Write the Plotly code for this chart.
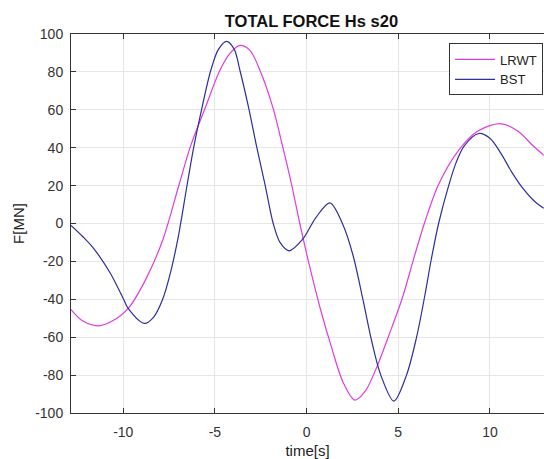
import plotly.graph_objects as go

# Time samples [s] and total force [MN] for the two models
t_lrwt = [-12.85, -12.2, -11.36, -10.6, -9.73, -8.8, -7.85, -6.95, -6.33, -5.49,
          -4.77, -4.2, -3.64, -3.1, -2.55, -1.82, -1.31, -0.82, -0.37, 0.2,
          0.75, 1.35, 2.0, 2.63, 3.2, 3.85, 4.45, 5.2, 5.8, 6.45,
          7.2, 8.3, 9.3, 10.54, 11.5, 12.35, 12.94]
f_lrwt = [-45.4, -51.5, -54.0, -51.5, -44.8, -30.0, -8.8, 20.7, 40.8, 62.0,
          80.0, 89.5, 94.0, 91.5, 81.0, 60.6, 40.8, 20.7, 0.0, -24.0,
          -45.0, -65.0, -84.0, -93.2, -88.5, -75.3, -60.0, -40.0, -20.0, 0.8,
          20.6, 38.7, 48.5, 52.7, 49.0, 41.0, 36.0]

t_bst = [-12.85, -12.2, -11.63, -10.72, -10.0, -9.73, -8.85, -8.35, -7.85, -7.4,
         -7.0, -6.54, -6.18, -5.82, -5.22, -4.8, -4.36, -3.95, -3.64, -3.15,
         -2.73, -2.27, -1.82, -1.45, -0.95, -0.22, 0.5, 1.27, 2.0, 2.54,
         3.05, 3.55, 4.05, 4.76, 5.45, 6.0, 6.45, 6.8, 7.2, 7.75,
         8.15, 8.6, 9.4, 10.0, 10.6, 11.2, 11.8, 12.4, 12.94]
f_bst = [-1.0, -7.0, -13.0, -26.0, -39.6, -44.8, -52.7, -49.5, -40.0, -25.0,
         -7.0, 19.0, 39.0, 56.0, 81.0, 92.0, 96.1, 92.0, 81.0, 60.6,
         40.8, 20.7, 0.0, -10.0, -14.4, -8.4, 3.0, 10.9, -1.0, -17.0,
         -39.0, -62.0, -80.0, -93.7, -80.0, -60.0, -38.0, -19.0, 0.0, 20.0,
         32.0, 41.0, 47.5, 45.0, 37.0, 27.0, 18.5, 12.0, 8.0]

x_ticks = [-10, -5, 0, 5, 10]
y_ticks = [-100, -80, -60, -40, -20, 0, 20, 40, 60, 80, 100]

fig = go.Figure()
fig.add_trace(go.Scatter(x=t_lrwt, y=f_lrwt, name="LRWT", mode="lines",
                         line=dict(color="#dd3ddd", width=1.2, shape="spline", smoothing=0.9)))
fig.add_trace(go.Scatter(x=t_bst, y=f_bst, name="BST", mode="lines",
                         line=dict(color="#2e2e9c", width=1.2, shape="spline", smoothing=0.9)))

axis_font = dict(family="Liberation Sans, Arial, sans-serif", size=14, color="#333333")

fig.update_layout(
    width=544, height=459,
    margin=dict(l=71, r=0, t=34, b=46),
    paper_bgcolor="white", plot_bgcolor="white",
    title=dict(text="<b>TOTAL FORCE Hs s20</b>", x=0.5725, xanchor="center",
               y=0.953, yanchor="middle",
               font=dict(family="Liberation Sans, Arial, sans-serif", size=16.5, color="#111111")),
    font=axis_font,
    showlegend=True,
    legend=dict(x=0.998, xanchor="right", y=0.975, yanchor="top",
                bgcolor="white", bordercolor="#333333", borderwidth=1,
                font=dict(family="Liberation Sans, Arial, sans-serif", size=13, color="#222222"),
                tracegroupgap=0, itemwidth=40),
)

fig.update_xaxes(
    range=[-12.85, 12.95], tickvals=x_ticks, ticktext=[str(v) for v in x_ticks],
    showgrid=True, gridcolor="#e6e6e6", gridwidth=1, zeroline=False,
    showline=True, linecolor="#333333", linewidth=1, mirror="ticks",
    ticks="inside", ticklen=5, tickcolor="#333333",
    ticklabelstandoff=6,
    title=dict(text="time[s]", standoff=6, font=dict(size=15, color="#222222")),
)
fig.update_yaxes(
    range=[-100, 100], tickvals=y_ticks, ticktext=[str(v) for v in y_ticks],
    showgrid=True, gridcolor="#e6e6e6", gridwidth=1, zeroline=False,
    showline=True, linecolor="#333333", linewidth=1,
    ticks="inside", ticklen=5, tickcolor="#333333",
    ticklabelstandoff=4,
    title=dict(text="F[MN]", standoff=6, font=dict(size=15, color="#222222")),
)

fig.write_html("out.html")
